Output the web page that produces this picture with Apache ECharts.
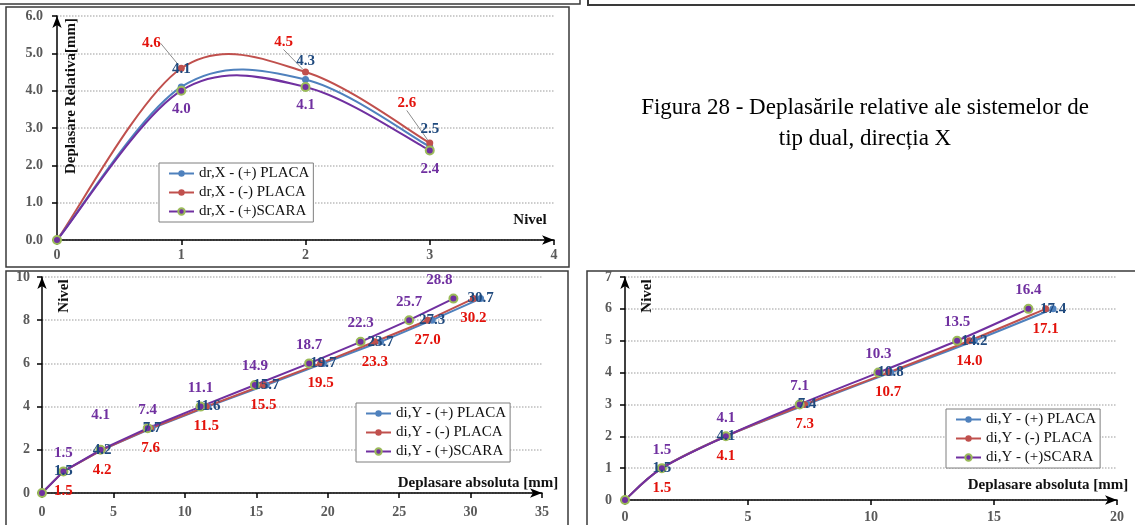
<!DOCTYPE html>
<html>
<head>
<meta charset="utf-8">
<title>Figura 28 - Deplasari</title>
<script src="https://cdn.jsdelivr.net/npm/echarts@6/dist/echarts.min.js"></script>
<style>
  html, body { margin: 0; padding: 0; background: #fff; }
  #chart { width: 1135px; height: 525px; }
</style>
</head>
<body>
<div id="chart"></div>
<script>
// deplasari relative, directia X (nivel 0..3)
var nivelX = [0, 1, 2, 3];
var drPlacaPoz = [0, 4.1, 4.3, 2.5];
var drPlacaNeg = [0, 4.6, 4.5, 2.6];
var drScara = [0, 4.0, 4.1, 2.4];

// deplasari absolute, directia Y - 9 niveluri
var nivel9 = [0, 1, 2, 3, 4, 5, 6, 7, 8, 9];
var diPlacaPoz9 = [0, 1.5, 4.2, 7.7, 11.6, 15.7, 19.7, 23.7, 27.3, 30.7];
var diPlacaNeg9 = [0, 1.5, 4.2, 7.6, 11.5, 15.5, 19.5, 23.3, 27.0, 30.2];
var diScara9 = [0, 1.5, 4.1, 7.4, 11.1, 14.9, 18.7, 22.3, 25.7, 28.8];

// deplasari absolute, directia Y - 6 niveluri
var nivel6 = [0, 1, 2, 3, 4, 5, 6];
var diPlacaPoz6 = [0, 1.5, 4.1, 7.4, 10.8, 14.2, 17.4];
var diPlacaNeg6 = [0, 1.5, 4.1, 7.3, 10.7, 14.0, 17.1];
var diScara6 = [0, 1.5, 4.1, 7.1, 10.3, 13.5, 16.4];

var namesX = ['dr,X - (+) PLACA', 'dr,X - (-) PLACA', 'dr,X - (+)SCARA'];
var namesY = ['di,Y - (+) PLACA', 'di,Y - (-) PLACA', 'di,Y - (+)SCARA'];

var colBlue = '#4f81bd', colRed = '#c0504d', colPurple = '#7030a0';
var lblBlue = '#1f497d', lblRed = '#e3120b', lblPurple = '#7030a0';
var serif = '"Liberation Serif", "DejaVu Serif", serif';

// mutari manuale ale etichetelor (ca in Excel)
var redTopShift = [[0, 0], [-30, -7], [-22, -12], [-23, -22]];
var purple9Shift = { 2: [0, -16], 9: [-14, 0] };

function pairs(xs, ys) {
  return xs.map(function (x, i) { return [x, ys[i]]; });
}

function pts(xs, ys) {
  return xs.map(function (x, i) {
    return { value: [x, ys[i]], label: { show: i > 0 } };
  });
}

function line(name, gi, data, dim, color, lblColor, pos, dist, extra) {
  var s = {
    name: name, type: 'line', xAxisIndex: gi, yAxisIndex: gi,
    data: data, symbol: 'circle', symbolSize: 7, z: 3,
    lineStyle: { color: color, width: 2 },
    itemStyle: { color: color },
    label: {
      show: true, position: pos, distance: dist, color: lblColor,
      fontFamily: serif, fontWeight: 'bold', fontSize: 15,
      formatter: function (p) { return p.value[dim].toFixed(1); }
    },
    emphasis: { disabled: true },
    animation: false
  };
  for (var k in extra) s[k] = extra[k];
  return s;
}

// curba netezita tip Excel (Catmull-Rom), trasata prin api.coord
function curve(gi, raw, color) {
  return {
    type: 'custom', xAxisIndex: gi, yAxisIndex: gi, silent: true, z: 2,
    data: raw, animation: false,
    renderItem: function (params, api) {
      if (params.dataIndex > 0) return null;
      var P = raw.map(function (d) { return api.coord(d); });
      var kids = [];
      for (var i = 0; i < P.length - 1; i++) {
        var a = P[i - 1] || P[i], b = P[i], c = P[i + 1], e = P[i + 2] || c;
        kids.push({
          type: 'bezierCurve',
          shape: {
            x1: b[0], y1: b[1], x2: c[0], y2: c[1],
            cpx1: b[0] + (c[0] - a[0]) / 6, cpy1: b[1] + (c[1] - a[1]) / 6,
            cpx2: c[0] - (e[0] - b[0]) / 6, cpy2: c[1] - (e[1] - b[1]) / 6
          },
          style: { stroke: color, lineWidth: 2, fill: 'none' }
        });
      }
      return { type: 'group', children: kids };
    }
  };
}

var hidden = { lineStyle: { opacity: 0 } };
var scaraStyle = { itemStyle: { color: colPurple, borderColor: '#9bbb59', borderWidth: 2 }, symbolSize: 8 };

function mix() {
  var o = {};
  for (var i = 0; i < arguments.length; i++) for (var k in arguments[i]) o[k] = arguments[i][k];
  return o;
}

function axis(gi, min, max, step, margin, fmt, grid) {
  return {
    type: 'value', gridIndex: gi, min: min, max: max, interval: step,
    axisLine: { show: true, onZero: false, symbol: ['none', 'arrow'], symbolSize: [7, 12],
      lineStyle: { color: '#000', width: 1.5 } },
    axisTick: { show: true, length: 5, lineStyle: { color: '#000', width: 1.5 } },
    axisLabel: { color: '#595959', fontFamily: serif, fontWeight: 'bold', fontSize: 14,
      margin: margin, formatter: fmt },
    splitLine: { show: !!grid, lineStyle: { type: 'dotted', color: '#bdbdbd', width: 1.5 } }
  };
}

function legend(names, left, top) {
  return {
    data: names, orient: 'vertical', left: left, top: top,
    itemWidth: 25, itemHeight: 8, itemGap: 4,
    padding: [3, 4, 3, 9],
    borderColor: '#7f7f7f', borderWidth: 1, backgroundColor: '#fff',
    lineStyle: { opacity: 1, width: 2 },
    textStyle: { fontFamily: serif, fontSize: 15, color: '#111' }
  };
}

function txt(s, x, y, size, bold, rot) {
  return {
    type: 'text', x: x, y: y, rotation: rot || 0, z: 10,
    style: { text: s, font: (bold ? 'bold ' : '') + size + 'px ' + serif,
      fill: bold ? '#111' : '#000', align: 'center', verticalAlign: 'middle' }
  };
}

function frame(x, y, w, h) {
  return { type: 'rect', shape: { x: x, y: y, width: w, height: h },
    style: { fill: 'none', stroke: '#3a3a3a', lineWidth: 1.5 } };
}

var fmt1 = function (v) { return v.toFixed(1); };

var chart = echarts.init(document.getElementById('chart'));
chart.setOption({
  animation: false,
  grid: [
    { left: 57, right: 581, top: 16, bottom: 285 },
    { left: 42, right: 593, top: 277, bottom: 32 },
    { left: 625, right: 18, top: 277, bottom: 25 }
  ],
  xAxis: [
    axis(0, 0, 4, 1, 8),
    axis(1, 0, 35, 5, 12),
    axis(2, 0, 20, 5, 10)
  ],
  yAxis: [
    axis(0, 0, 6, 1, 14, fmt1, true),
    axis(1, 0, 10, 2, 12, null, true),
    axis(2, 0, 7, 1, 13, null, true)
  ],
  legend: [
    legend(namesX, 159, 163),
    legend(namesY, 356, 403),
    legend(namesY, 946, 409)
  ],
  series: [
    // directia X - curbe netezite
    curve(0, pairs(nivelX, drPlacaNeg), colRed),
    curve(0, pairs(nivelX, drPlacaPoz), colBlue),
    curve(0, pairs(nivelX, drScara), colPurple),
    line(namesX[0], 0, pts(nivelX, drPlacaPoz), 1, colBlue, lblBlue, 'top', 7, hidden),
    line(namesX[1], 0, pts(nivelX, drPlacaNeg), 1, colRed, lblRed, 'top', 7, mix(hidden, {
      labelLayout: function (p) {
        var o = redTopShift[p.dataIndex];
        return { dx: o[0], dy: o[1] };
      },
      labelLine: { show: true, lineStyle: { color: '#8c8c8c', width: 1 } }
    })),
    line(namesX[2], 0, pts(nivelX, drScara), 1, colPurple, lblPurple, 'bottom', 6, mix(hidden, scaraStyle)),
    // directia Y, 9 niveluri
    line(namesY[0], 1, pts(diPlacaPoz9, nivel9), 0, colBlue, lblBlue, 'inside', 0, {}),
    line(namesY[1], 1, pts(diPlacaNeg9, nivel9), 0, colRed, lblRed, 'bottom', 9, {}),
    line(namesY[2], 1, pts(diScara9, nivel9), 0, colPurple, lblPurple, 'top', 6, mix(scaraStyle, {
      labelLayout: function (p) {
        var o = purple9Shift[p.dataIndex];
        return o ? { dx: o[0], dy: o[1] } : {};
      }
    })),
    // directia Y, 6 niveluri
    curve(2, pairs(diPlacaPoz6, nivel6), colBlue),
    curve(2, pairs(diPlacaNeg6, nivel6), colRed),
    curve(2, pairs(diScara6, nivel6), colPurple),
    line(namesY[0], 2, pts(diPlacaPoz6, nivel6), 0, colBlue, lblBlue, 'inside', 0, hidden),
    line(namesY[1], 2, pts(diPlacaNeg6, nivel6), 0, colRed, lblRed, 'bottom', 9, hidden),
    line(namesY[2], 2, pts(diScara6, nivel6), 0, colPurple, lblPurple, 'top', 6, mix(hidden, scaraStyle))
  ],
  graphic: [
    // chenare
    { type: 'polyline', shape: { points: [[0, 4], [580, 4], [580, -5]] },
      style: { stroke: '#3a3a3a', lineWidth: 1.5, fill: 'none' } },
    { type: 'polyline', shape: { points: [[588, -5], [588, 5], [1140, 5]] },
      style: { stroke: '#3a3a3a', lineWidth: 2, fill: 'none' } },
    frame(6, 7, 563, 260),
    frame(6, 271, 562, 270),
    frame(587, 271, 560, 270),
    // titluri axe
    txt('Deplasare Relativa[mm]', 71, 96, 15, true, Math.PI / 2),
    txt('Nivel', 530, 220, 15, true),
    txt('Nivel', 64, 296, 15, true, Math.PI / 2),
    txt('Deplasare absoluta [mm]', 478, 483, 15, true),
    txt('Nivel', 647, 296, 15, true, Math.PI / 2),
    txt('Deplasare absoluta [mm]', 1048, 485, 15, true),
    // legenda figurii
    txt('Figura 28 - Deplasările relative ale sistemelor de', 865, 108, 23, false),
    txt('tip dual, direcția X', 865, 139, 23, false)
  ]
});
</script>
</body>
</html>
